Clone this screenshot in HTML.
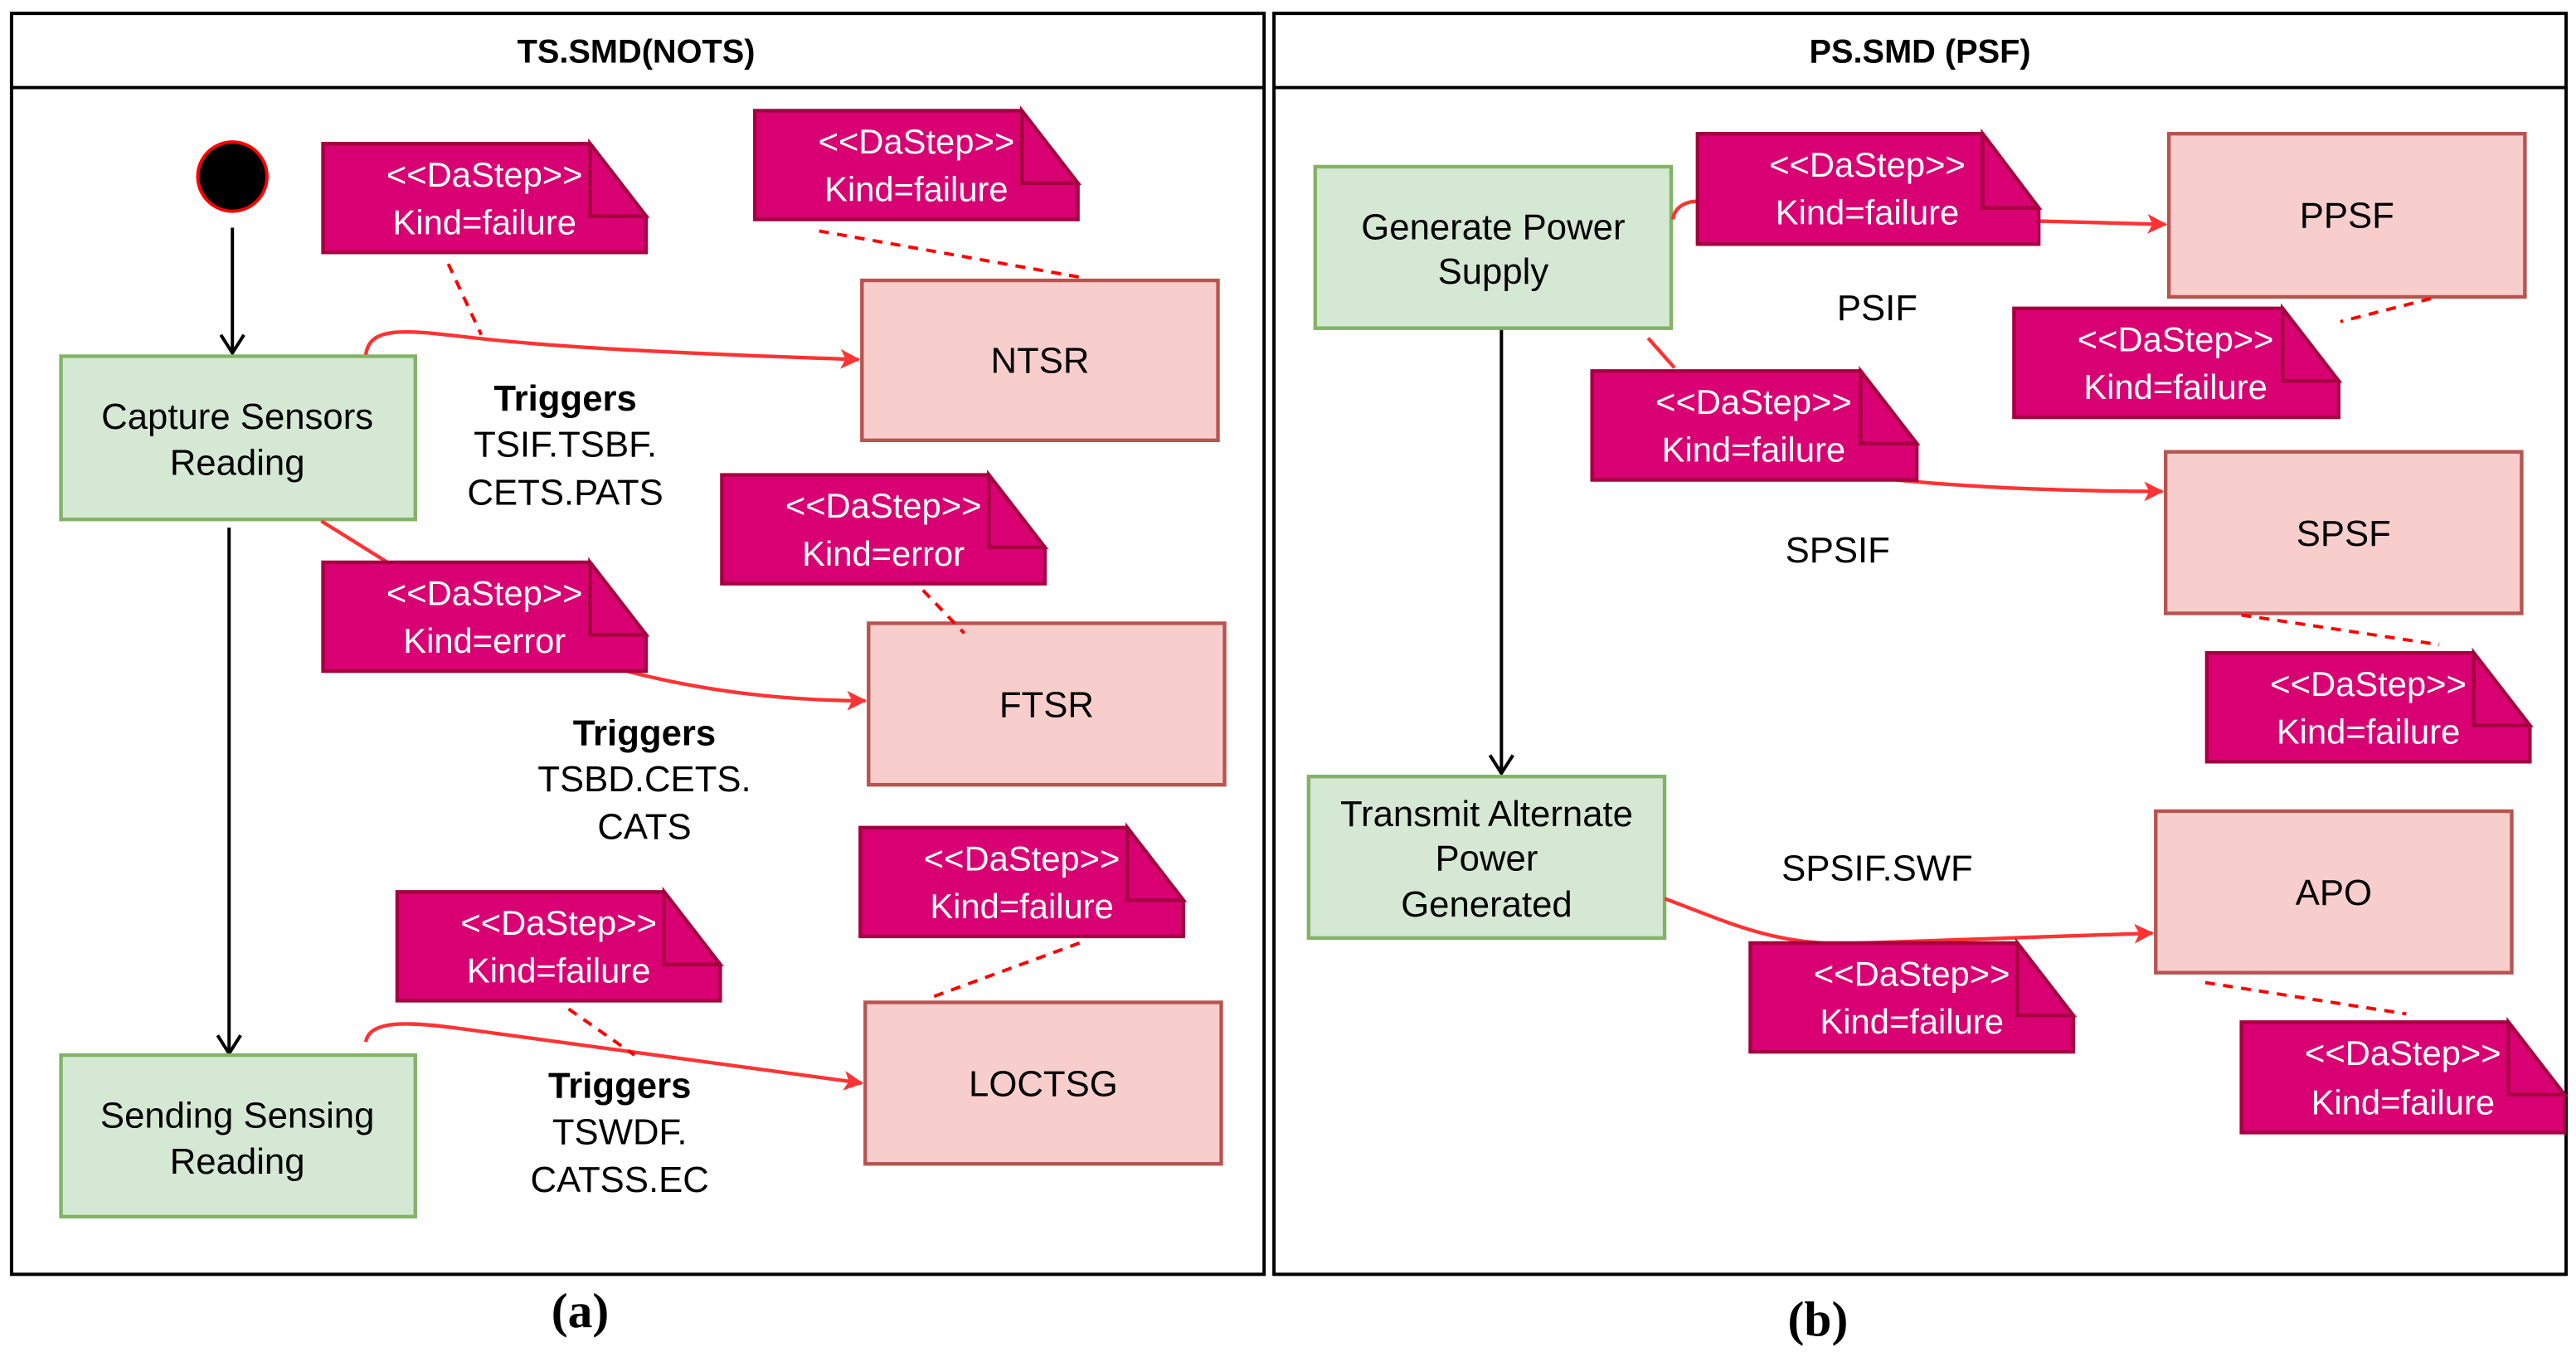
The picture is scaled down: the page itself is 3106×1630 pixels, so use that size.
<!DOCTYPE html>
<html><head><meta charset="utf-8"><style>
html,body{margin:0;padding:0;background:#fff;}
svg{display:block;}
text{font-family:"Liberation Sans",sans-serif;}
.n{fill:#d80073;stroke:#a50040;stroke-width:2.2;stroke-linejoin:miter;}
.nt{fill:#fff;font-size:21px;text-anchor:middle;}
.g{fill:#d5e8d4;stroke:#82b366;stroke-width:2.2;}
.p{fill:#f8cecc;stroke:#b85450;stroke-width:2.2;}
.bt{fill:#000;font-size:22px;text-anchor:middle;}
.r{fill:none;stroke:#ff3333;stroke-width:2.2;}
.d{fill:none;stroke:#ff0000;stroke-width:2;stroke-dasharray:6,5;}
.k{fill:none;stroke:#000;stroke-width:2;}
</style></head><body>
<svg width="3106" height="1630" viewBox="0 0 1563 820" xmlns="http://www.w3.org/2000/svg">
<defs>
<marker id="ra" markerWidth="12" markerHeight="12" refX="11" refY="6" orient="auto" markerUnits="userSpaceOnUse"><path d="M0,0 L12,6 L0,12 L3,6 Z" fill="#ff3333"/></marker>
</defs>
<rect x="7" y="8" width="760" height="765" fill="none" stroke="#000" stroke-width="2"/>
<line x1="7" y1="53" x2="767" y2="53" stroke="#000" stroke-width="2"/>
<text x="386" y="38" font-size="20" font-weight="bold" text-anchor="middle">TS.SMD(NOTS)</text>
<rect x="773" y="8" width="784" height="765" fill="none" stroke="#000" stroke-width="2"/>
<line x1="773" y1="53" x2="1557" y2="53" stroke="#000" stroke-width="2"/>
<text x="1165" y="38" font-size="20" font-weight="bold" text-anchor="middle">PS.SMD (PSF)</text>
<text x="352" y="805" font-size="30" font-weight="bold" text-anchor="middle" style="font-family:'Liberation Serif',serif">(a)</text>
<text x="1103" y="810" font-size="30" font-weight="bold" text-anchor="middle" style="font-family:'Liberation Serif',serif">(b)</text>

<circle cx="141" cy="107" r="21" fill="#000" stroke="#ff0000" stroke-width="2"/>
<line x1="141" y1="138" x2="141" y2="213" class="k"/>
<path d="M134,203 L141,214 L148,203" class="k"/>
<line x1="139" y1="320" x2="139" y2="638" class="k"/>
<path d="M132,628 L139,639 L146,628" class="k"/>

<rect x="37" y="216" width="215" height="99" class="g"/>
<text x="144" y="260" class="bt">Capture Sensors</text><text x="144" y="288" class="bt">Reading</text>
<rect x="37" y="640" width="215" height="98" class="g"/>
<text x="144" y="684" class="bt">Sending Sensing</text><text x="144" y="712" class="bt">Reading</text>

<rect x="523" y="170" width="216" height="97" class="p"/><text x="631" y="226" class="bt">NTSR</text>
<rect x="527" y="378" width="216" height="98" class="p"/><text x="635" y="435" class="bt">FTSR</text>
<rect x="525" y="608" width="216" height="98" class="p"/><text x="633" y="665" class="bt">LOCTSG</text>

<path d="M222,215 C224,198 245,200 280,204 C330,210 400,214 521,218" class="r" marker-end="url(#ra)"/>
<line x1="195" y1="316" x2="235" y2="341" class="r"/>
<path d="M380,407 C430,420 480,425 525,425" class="r" marker-end="url(#ra)"/>
<path d="M222,632 C224,618 250,620 280,624 L523,657" class="r" marker-end="url(#ra)"/>
<line x1="272" y1="160" x2="292" y2="203" class="d"/>
<line x1="497" y1="140" x2="655" y2="168" class="d"/>
<line x1="560" y1="358" x2="585" y2="384" class="d"/>
<line x1="655" y1="572" x2="565" y2="605" class="d"/>
<line x1="345" y1="612" x2="385" y2="640" class="d"/>

<path d="M196,87 H358 L392,131 V153 H196 Z" class="n"/><path d="M358,87 V131 H392 Z" class="n"/><text x="294" y="113" class="nt">&lt;&lt;DaStep&gt;&gt;</text><text x="294" y="142" class="nt">Kind=failure</text>
<path d="M458,67 H620 L654,111 V133 H458 Z" class="n"/><path d="M620,67 V111 H654 Z" class="n"/><text x="556" y="93" class="nt">&lt;&lt;DaStep&gt;&gt;</text><text x="556" y="122" class="nt">Kind=failure</text>
<path d="M438,288 H600 L634,332 V354 H438 Z" class="n"/><path d="M600,288 V332 H634 Z" class="n"/><text x="536" y="314" class="nt">&lt;&lt;DaStep&gt;&gt;</text><text x="536" y="343" class="nt">Kind=error</text>
<path d="M196,341 H358 L392,385 V407 H196 Z" class="n"/><path d="M358,341 V385 H392 Z" class="n"/><text x="294" y="367" class="nt">&lt;&lt;DaStep&gt;&gt;</text><text x="294" y="396" class="nt">Kind=error</text>
<path d="M522,502 H684 L718,546 V568 H522 Z" class="n"/><path d="M684,502 V546 H718 Z" class="n"/><text x="620" y="528" class="nt">&lt;&lt;DaStep&gt;&gt;</text><text x="620" y="557" class="nt">Kind=failure</text>
<path d="M241,541 H403 L437,585 V607 H241 Z" class="n"/><path d="M403,541 V585 H437 Z" class="n"/><text x="339" y="567" class="nt">&lt;&lt;DaStep&gt;&gt;</text><text x="339" y="596" class="nt">Kind=failure</text>

<text x="343" y="249" class="bt" font-weight="bold">Triggers</text>
<text x="343" y="277" class="bt">TSIF.TSBF.</text>
<text x="343" y="306" class="bt">CETS.PATS</text>
<text x="391" y="452" class="bt" font-weight="bold">Triggers</text>
<text x="391" y="480" class="bt">TSBD.CETS.</text>
<text x="391" y="509" class="bt">CATS</text>
<text x="376" y="666" class="bt" font-weight="bold">Triggers</text>
<text x="376" y="694" class="bt">TSWDF.</text>
<text x="376" y="723" class="bt">CATSS.EC</text>

<line x1="911" y1="199" x2="911" y2="468" class="k"/>
<path d="M904,458 L911,469 L918,458" class="k"/>
<rect x="798" y="101" width="216" height="98" class="g"/>
<text x="906" y="145" class="bt">Generate Power</text><text x="906" y="172" class="bt">Supply</text>
<rect x="794" y="471" width="216" height="98" class="g"/>
<text x="902" y="501" class="bt">Transmit Alternate</text><text x="902" y="528" class="bt">Power</text><text x="902" y="556" class="bt">Generated</text>

<rect x="1316" y="81" width="216" height="99" class="p"/><text x="1424" y="138" class="bt">PPSF</text>
<rect x="1314" y="274" width="216" height="98" class="p"/><text x="1422" y="331" class="bt">SPSF</text>
<rect x="1308" y="492" width="216" height="98" class="p"/><text x="1416" y="549" class="bt">APO</text>

<path d="M1015,133 C1016,126 1022,122 1030,122" class="r"/>
<path d="M1237,134 L1314,136" class="r" marker-end="url(#ra)"/>
<line x1="1000" y1="205" x2="1016" y2="223" class="r"/>
<path d="M1150,291 C1200,296 1260,298 1312,298" class="r" marker-end="url(#ra)"/>
<path d="M1010,545 C1050,560 1080,575 1130,572 L1306,566" class="r" marker-end="url(#ra)"/>
<line x1="1475" y1="181" x2="1420" y2="195" class="d"/>
<line x1="1360" y1="373" x2="1480" y2="391" class="d"/>
<line x1="1338" y1="596" x2="1460" y2="615" class="d"/>

<path d="M1030,81 H1203 L1237,126 V148 H1030 Z" class="n"/><path d="M1203,81 V126 H1237 Z" class="n"/><text x="1133" y="107" class="nt">&lt;&lt;DaStep&gt;&gt;</text><text x="1133" y="136" class="nt">Kind=failure</text>
<path d="M1222,187 H1385 L1419,231 V253 H1222 Z" class="n"/><path d="M1385,187 V231 H1419 Z" class="n"/><text x="1320" y="213" class="nt">&lt;&lt;DaStep&gt;&gt;</text><text x="1320" y="242" class="nt">Kind=failure</text>
<path d="M966,225 H1129 L1163,269 V291 H966 Z" class="n"/><path d="M1129,225 V269 H1163 Z" class="n"/><text x="1064" y="251" class="nt">&lt;&lt;DaStep&gt;&gt;</text><text x="1064" y="280" class="nt">Kind=failure</text>
<path d="M1339,396 H1501 L1535,440 V462 H1339 Z" class="n"/><path d="M1501,396 V440 H1535 Z" class="n"/><text x="1437" y="422" class="nt">&lt;&lt;DaStep&gt;&gt;</text><text x="1437" y="451" class="nt">Kind=failure</text>
<path d="M1062,572 H1224 L1258,616 V638 H1062 Z" class="n"/><path d="M1224,572 V616 H1258 Z" class="n"/><text x="1160" y="598" class="nt">&lt;&lt;DaStep&gt;&gt;</text><text x="1160" y="627" class="nt">Kind=failure</text>
<path d="M1360,620 H1522 L1556,664 V687 H1360 Z" class="n"/><path d="M1522,620 V664 H1556 Z" class="n"/><text x="1458" y="646" class="nt">&lt;&lt;DaStep&gt;&gt;</text><text x="1458" y="676" class="nt">Kind=failure</text>

<text x="1139" y="194" class="bt">PSIF</text>
<text x="1115" y="341" class="bt">SPSIF</text>
<text x="1139" y="534" class="bt">SPSIF.SWF</text>
</svg>
</body></html>
